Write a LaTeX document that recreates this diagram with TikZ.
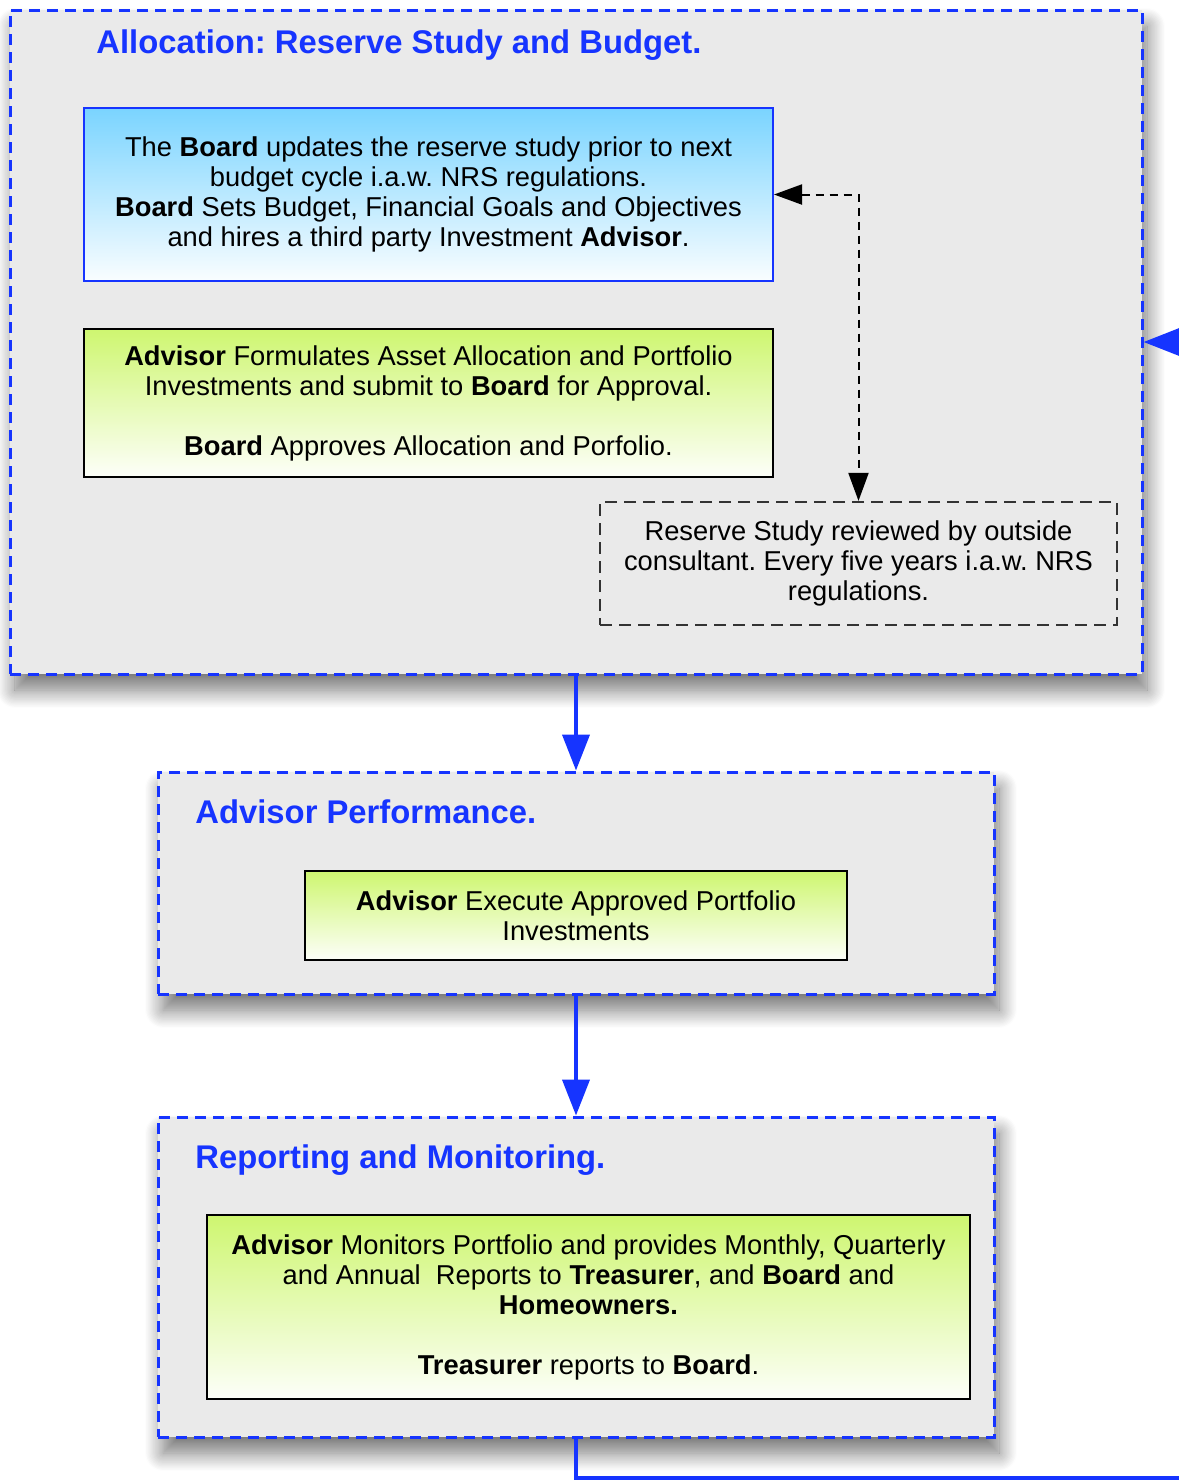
\documentclass[tikz,border=0pt]{standalone}
\usepackage{fontspec}
\setmainfont{Liberation Sans}
\usepackage{tikz}
\usetikzlibrary{shapes}
\usetikzlibrary{arrows.meta}
\usetikzlibrary{shadows.blur}
\definecolor{flowblue}{RGB}{22,52,255}
\definecolor{stagegray}{RGB}{234,234,234}
\definecolor{skyblue}{RGB}{122,212,255}
\definecolor{limegreen}{RGB}{206,246,112}
\newcommand{\bodyfont}{\fontsize{13.65}{15}\selectfont}
\frenchspacing
\tikzstyle{stage}=[rectangle,draw=flowblue,fill=stagegray,line width=1.5pt,dash pattern=on 5.5pt off 3.5pt,inner sep=0pt,blur shadow={shadow xshift=2.5pt,shadow yshift=-8pt,shadow blur radius=9pt,shadow blur steps=16,shadow opacity=55}]
\tikzstyle{heading}=[anchor=base west,inner sep=0pt,text=flowblue,font=\fontsize{16.4}{19}\selectfont\bfseries]
\tikzstyle{plan}=[rectangle,draw=flowblue,line width=1pt,top color=skyblue,bottom color=skyblue!4,inner sep=0pt,align=center,font=\bodyfont]
\tikzstyle{task}=[rectangle,draw=black,line width=1pt,top color=limegreen,bottom color=limegreen!4,inner sep=0pt,align=center,font=\bodyfont]
\tikzstyle{review}=[rectangle,draw=black!80,line width=1.1pt,dash pattern=on 6pt off 3.5pt,inner sep=0pt,align=center,font=\bodyfont]
\tikzstyle{flow}=[draw=flowblue,line width=2pt,-{Triangle[width=13.5pt,length=18pt]}]
\tikzstyle{link}=[draw=black,line width=1pt,dash pattern=on 4pt off 3pt,{Triangle[width=10pt,length=14pt]}-{Triangle[width=10pt,length=14pt]}]

\begin{document}
\begin{tikzpicture}[x=0.5pt,y=-0.5pt]
    \useasboundingbox (0,0) rectangle (1179,1480);
    \clip (0,0) rectangle (1179,1480);
    \node[stage,minimum width=566pt,minimum height=332pt] at (576,342) (alloc) {};
    \node[stage,minimum width=418pt,minimum height=111pt] at (576,883) (perf) {};
    \node[stage,minimum width=418pt,minimum height=160pt] at (576,1277) (rep) {};
    \node[heading] at (96,53) (allocTitle) {Allocation: Reserve Study and Budget.};
    \node[heading] at (195,823) (perfTitle) {Advisor Performance.};
    \node[heading] at (195,1168) (repTitle) {Reporting and Monitoring.};
    \node[plan,minimum width=344.5pt,minimum height=86.5pt] at (428.5,194.5) (budget) {The \textbf{Board} updates the reserve study prior to next\\ budget cycle i.a.w. NRS regulations.\\ \textbf{Board} Sets Budget, Financial Goals and Objectives\\ and hires a third party Investment \textbf{Advisor}.};
    \node[task,minimum width=344.5pt,minimum height=74pt] at (428.5,403) (approve) {\textbf{Advisor} Formulates Asset Allocation and Portfolio\\ Investments and submit to \textbf{Board} for Approval.\\[15pt] \textbf{Board} Approves Allocation and Porfolio.};
    \node[review,minimum width=258.5pt,minimum height=61.5pt] at (858.5,563.5) (consult) {Reserve Study reviewed by outside\\ consultant. Every five years i.a.w. NRS\\ regulations.};
    \node[task,minimum width=271pt,minimum height=44.5pt] at (576,915.5) (execute) {\textbf{Advisor} Execute Approved Portfolio\\ Investments};
    \node[task,minimum width=381.5pt,minimum height=92pt] at (588.5,1307) (monitor) {\textbf{Advisor} Monitors Portfolio and provides Monthly, Quarterly\\ and Annual\ \ Reports to \textbf{Treasurer}, and \textbf{Board} and\\ \textbf{Homeowners.}\\[15pt] \textbf{Treasurer} reports to \textbf{Board}.};
    \coordinate (bend) at (1200,1478);
    \draw[link] (budget.east) -| (consult.north);
    \draw[flow] (alloc.south) -- (perf.north);
    \draw[flow] (perf.south) -- (rep.north);
    \draw[flow] (rep.south) |- (bend) |- (alloc.east);
  \end{tikzpicture}
\end{document}
